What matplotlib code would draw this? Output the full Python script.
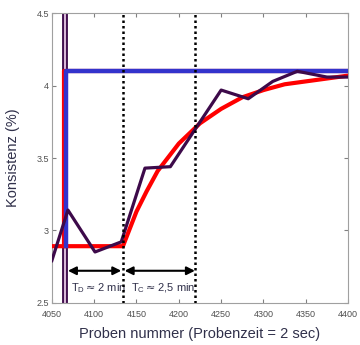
import matplotlib
matplotlib.use('Agg')
import matplotlib.pyplot as plt

plt.rcParams['font.family'] = ['Liberation Sans', 'DejaVu Sans']

# measured consistency (purple)
meas_x = [4050, 4069, 4101, 4132, 4160, 4190, 4250, 4282, 4311, 4340, 4375, 4400]
meas_y = [2.79, 3.14, 2.85, 2.92, 3.43, 3.44, 3.97, 3.91, 4.03, 4.10, 4.06, 4.06]

# model response (red)
model_x = [4050, 4134, 4150, 4162, 4175, 4200, 4225, 4250, 4275, 4300, 4325, 4350, 4375, 4400]
model_y = [2.89, 2.89, 3.13, 3.27, 3.41, 3.60, 3.74, 3.84, 3.92, 3.97, 4.01, 4.03, 4.05, 4.07]

# step input
step_red_x = [4064, 4064, 4400]
step_red_y = [2.89, 4.105, 4.105]
step_blue_x = [4067, 4067, 4400]
step_blue_y = [2.89, 4.10, 4.10]

step_time = 4065
dead_end = 4134
settle_end = 4219
arrow_y = 2.72

fig = plt.figure(figsize=(3.6, 3.45), dpi=100)
ax = fig.add_axes([0.144, 0.123, 0.823, 0.838])

ax.axvline(step_time, color='#3d0a4a', lw=4.2, zorder=2)
ax.axvline(step_time, color='#d8b8d8', lw=1.5, zorder=2)
ax.plot(step_red_x, step_red_y, color='red', lw=3, zorder=3)
ax.plot(model_x, model_y, color='red', lw=3, zorder=3)
ax.plot(step_blue_x, step_blue_y, color='#3333cc', lw=3.2, zorder=4)
ax.plot(meas_x, meas_y, color='#3d0a4a', lw=2.3, zorder=5)

for xv in [dead_end, settle_end]:
    ax.axvline(xv, color='black', ls=(0, (1, 1.2)), lw=1.8, zorder=6)

arrow_props = dict(arrowstyle='<|-|>', color='black', lw=1.5, mutation_scale=12,
                   shrinkA=0, shrinkB=0)
ax.annotate('', xy=(4069, arrow_y), xytext=(dead_end - 2, arrow_y), arrowprops=arrow_props)
ax.annotate('', xy=(dead_end + 2, arrow_y), xytext=(settle_end, arrow_y), arrowprops=arrow_props)

ax.text(4073, 2.60, r'T$_\mathregular{D}$$\approx$2 min', fontsize=8, color='#30304a', va='center')
ax.text(4144, 2.60, r'T$_\mathregular{C}$$\approx$2,5 min', fontsize=8, color='#30304a', va='center')

ax.set_xlim(4050, 4400)
ax.set_ylim(2.5, 4.5)
ax.set_xticks(range(4050, 4401, 50))
ax.set_yticks([2.5, 3, 3.5, 4, 4.5])
ax.set_yticklabels(['2.5', '3', '3.5', '4', '4.5'])
ax.tick_params(direction='in', length=3, labelsize=6.5, labelcolor='#505050',
               color='#808080', top=True, right=True, pad=2)
ax.tick_params(axis='x', pad=5)
for sp in ax.spines.values():
    sp.set_color('#a0a0a0')

ax.set_xlabel('Proben nummer (Probenzeit = 2 sec)', fontsize=10.5, color='#30304a', labelpad=6)
ax.set_ylabel('Konsistenz (%)', fontsize=10.5, color='#30304a', labelpad=12)

fig.savefig('out.png', dpi=100)
